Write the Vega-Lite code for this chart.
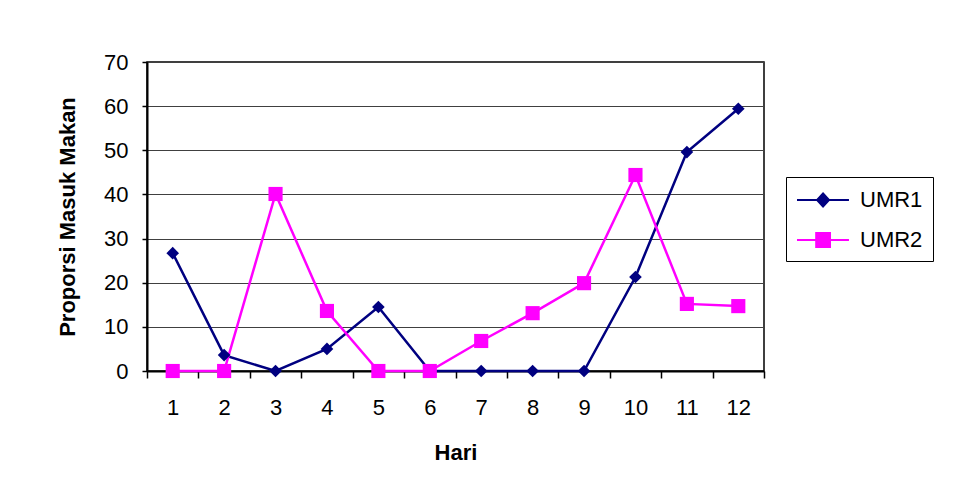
{
  "$schema": "https://vega.github.io/schema/vega-lite/v6.json",
  "width": 617,
  "height": 309,
  "autosize": {"type": "none"},
  "padding": {"left": 147, "top": 62, "right": 206, "bottom": 127},
  "background": "white",
  "config": {
    "font": "Liberation Sans",
    "view": {"stroke": "#000", "strokeWidth": 1.5}
  },
  "data": {
    "values": [
      {"hari": 1, "seri": "UMR1", "nilai": 26.7},
      {"hari": 2, "seri": "UMR1", "nilai": 3.6},
      {"hari": 3, "seri": "UMR1", "nilai": 0},
      {"hari": 4, "seri": "UMR1", "nilai": 5.0},
      {"hari": 5, "seri": "UMR1", "nilai": 14.5},
      {"hari": 6, "seri": "UMR1", "nilai": 0},
      {"hari": 7, "seri": "UMR1", "nilai": 0},
      {"hari": 8, "seri": "UMR1", "nilai": 0},
      {"hari": 9, "seri": "UMR1", "nilai": 0},
      {"hari": 10, "seri": "UMR1", "nilai": 21.3},
      {"hari": 11, "seri": "UMR1", "nilai": 49.6},
      {"hari": 12, "seri": "UMR1", "nilai": 59.4},
      {"hari": 1, "seri": "UMR2", "nilai": 0},
      {"hari": 2, "seri": "UMR2", "nilai": 0},
      {"hari": 3, "seri": "UMR2", "nilai": 40.1},
      {"hari": 4, "seri": "UMR2", "nilai": 13.6},
      {"hari": 5, "seri": "UMR2", "nilai": 0},
      {"hari": 6, "seri": "UMR2", "nilai": 0},
      {"hari": 7, "seri": "UMR2", "nilai": 6.8},
      {"hari": 8, "seri": "UMR2", "nilai": 13.1},
      {"hari": 9, "seri": "UMR2", "nilai": 19.9},
      {"hari": 10, "seri": "UMR2", "nilai": 44.4},
      {"hari": 11, "seri": "UMR2", "nilai": 15.2},
      {"hari": 12, "seri": "UMR2", "nilai": 14.7}
    ]
  },
  "encoding": {
    "x": {
      "field": "hari",
      "type": "ordinal",
      "scale": {"type": "band", "paddingInner": 0, "paddingOuter": 0},
      "axis": {
        "title": "Hari",
        "labelAngle": 0,
        "labelFontSize": 22,
        "labelColor": "#000",
        "labelPadding": 19,
        "tickBand": "extent",
        "tickSize": 7,
        "tickColor": "#000",
        "tickWidth": 1.5,
        "domainColor": "#000",
        "domainWidth": 2,
        "grid": false,
        "titleFontSize": 22,
        "titleFontWeight": "bold",
        "titleColor": "#000",
        "titlePadding": 24
      }
    },
    "y": {
      "field": "nilai",
      "type": "quantitative",
      "scale": {"domain": [0, 70], "nice": false},
      "axis": {
        "title": "Proporsi Masuk Makan",
        "values": [0, 10, 20, 30, 40, 50, 60, 70],
        "labelFontSize": 22,
        "labelColor": "#000",
        "labelPadding": 14,
        "tickSize": 5,
        "tickColor": "#000",
        "tickWidth": 1.5,
        "domainColor": "#000",
        "domainWidth": 2,
        "gridColor": "#404040",
        "gridWidth": 1,
        "titleFontSize": 22,
        "titleFontWeight": "bold",
        "titleColor": "#000",
        "titlePadding": 24
      }
    },
    "color": {
      "field": "seri",
      "type": "nominal",
      "scale": {"domain": ["UMR1", "UMR2"], "range": ["#000080", "#FF00FF"]},
      "legend": {
        "title": null,
        "orient": "none",
        "legendX": 639,
        "legendY": 115,
        "padding": 10,
        "strokeColor": "#000",
        "fillColor": "#fff",
        "labelFontSize": 22,
        "labelColor": "#000",
        "labelOffset": 38,
        "symbolSize": 576,
        "symbolStrokeWidth": 2,
        "rowPadding": 16,
        "encode": {
          "symbols": {
            "update": {
              "shape": {"signal": "datum.value === 'UMR1' ? 'M-1,0L3.33,0M1.17,-0.55L1.67,0L1.17,0.55L0.67,0Z' : 'M-1,0L3.33,0M0.6,-0.58L1.75,-0.58L1.75,0.58L0.6,0.58Z'"},
              "fill": {"signal": "datum.value === 'UMR1' ? '#000080' : '#FF00FF'"},
              "stroke": {"signal": "datum.value === 'UMR1' ? '#000080' : '#FF00FF'"},
              "strokeWidth": {"value": 2},
              "opacity": {"value": 1}
            }
          }
        }
      }
    }
  },
  "layer": [
    {"mark": {"type": "line", "strokeWidth": 2.5}},
    {
      "transform": [{"filter": "datum.seri === 'UMR1'"}],
      "mark": {"type": "point", "shape": "diamond", "size": 160, "filled": true, "opacity": 1}
    },
    {
      "transform": [{"filter": "datum.seri === 'UMR2'"}],
      "mark": {"type": "point", "shape": "square", "size": 200, "filled": true, "opacity": 1}
    }
  ]
}
